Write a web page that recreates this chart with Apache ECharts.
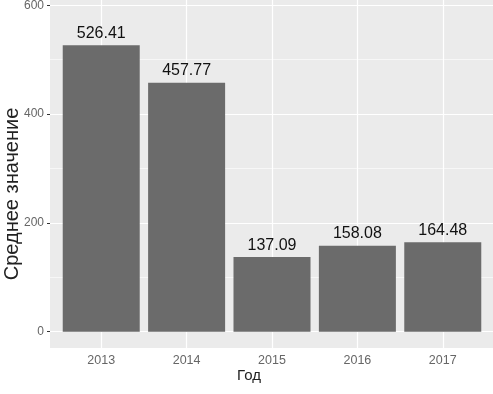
<!DOCTYPE html>
<html>
<head>
<meta charset="utf-8">
<script src="https://cdn.jsdelivr.net/npm/echarts@6/dist/echarts.min.js"></script>
<style>
html,body{margin:0;padding:0;background:#fff;}
#c{width:493px;height:394px;}
</style>
</head>
<body>
<div id="c"></div>
<script>
const years = ['2013', '2014', '2015', '2016', '2017'];
const values = [526.41, 457.77, 137.09, 158.08, 164.48];
const yTicks = [0, 200, 400, 600];
const yMinorGrid = [100, 300, 500];
const xPositions = [1, 2, 3, 4, 5];

const chart = echarts.init(document.getElementById('c'), null, {renderer: 'canvas'});
const font = 'Liberation Sans, Arial, sans-serif';

const markData = [];
yTicks.forEach(v => markData.push({yAxis: v, lineStyle: {width: 1.2}}));
yMinorGrid.forEach(v => markData.push({yAxis: v, lineStyle: {width: 0.6}}));
xPositions.forEach(v => markData.push({xAxis: v, lineStyle: {width: 1.2}}));

chart.setOption({
  animation: false,
  textStyle: {fontFamily: font},
  grid: {
    left: 50, right: -1, top: -11, bottom: 46,
    containLabel: false, outerBoundsMode: 'none',
    show: true, backgroundColor: '#EBEBEB', borderWidth: 0
  },
  xAxis: {
    type: 'value', min: 0.4, max: 5.6,
    axisLine: {show: false},
    splitLine: {show: false},
    axisTick: {show: true, length: 3, customValues: xPositions, lineStyle: {color: '#333', width: 1}},
    axisLabel: {
      customValues: xPositions, margin: 6,
      formatter: v => years[Math.round(v) - 1],
      color: '#666', fontSize: 12.5, fontFamily: font
    },
    name: 'Год', nameLocation: 'middle', nameGap: 20, nameMoveOverlap: false,
    nameTextStyle: {color: '#222', fontSize: 15, fontFamily: font, padding: [0, 46, 0, 0]}
  },
  yAxis: {
    type: 'value', min: -30, max: 630,
    axisLine: {show: false},
    splitLine: {show: false},
    axisTick: {show: true, length: 3, customValues: yTicks, lineStyle: {color: '#333', width: 1}},
    axisLabel: {customValues: yTicks, margin: 6, color: '#666', fontSize: 12, fontFamily: font},
    name: 'Среднее значение', nameLocation: 'middle', nameGap: 28, nameMoveOverlap: false,
    nameTextStyle: {color: '#222', fontSize: 20, fontFamily: font, padding: [0, 51, 0, 0]}
  },
  series: [{
    type: 'bar',
    z: 3,
    data: years.map((y, i) => [xPositions[i], values[i]]),
    barWidth: 77,
    itemStyle: {color: '#6b6b6b'},
    label: {
      show: true, position: 'top', distance: 4,
      formatter: p => values[p.dataIndex].toFixed(2),
      color: '#111', fontSize: 16, fontFamily: font
    },
    markLine: {
      silent: true, symbol: 'none', z: 1,
      label: {show: false},
      lineStyle: {color: '#ffffff', type: 'solid'},
      data: markData
    }
  }]
});
</script>
</body>
</html>
